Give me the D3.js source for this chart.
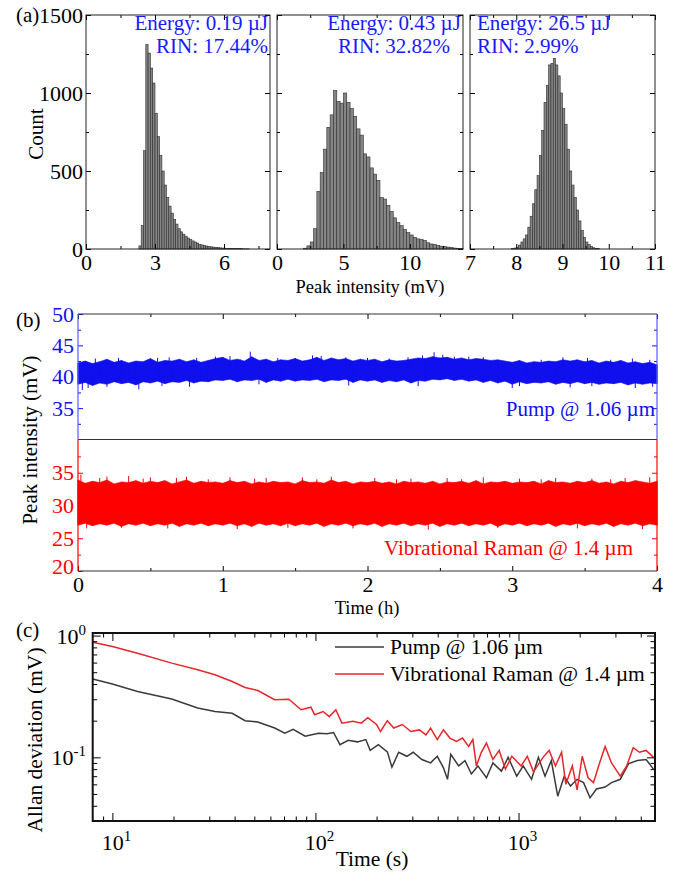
<!DOCTYPE html>
<html><head><meta charset="utf-8">
<script src="https://cdn.jsdelivr.net/npm/d3@7"></script>
<style>body{margin:0;background:#fff} text{font-family:"Liberation Serif","Times New Roman",serif;}</style>
</head><body><svg id="chart" width="675" height="873"></svg>
<script>
// ---------------- DATA ----------------
// (a) histograms: counts per bin, bin start and bin width (mV)
const hist1Start = 2.3, hist1Bin = 0.1;
const hist1Counts = [20,150,630,1310,1256,1160,1064,870,720,600,500,410,330,275,230,190,160,130,110,95,82,70,60,52,45,38,30,26,22,19,16,14,12,10,9,7,6,5,4,4,3,3,2,2,2,1,1,1];
const hist2Start = 2.0, hist2Bin = 0.25;
const hist2Counts = [5,20,45,130,370,490,640,780,860,1015,945,935,1000,940,900,850,770,730,610,590,520,480,440,330,320,280,240,200,170,150,125,105,90,75,65,60,55,40,32,28,22,18,15,12,10,6,4,2];
const hist3Start = 7.9, hist3Bin = 0.05;
const hist3Counts = [3,6,12,25,45,65,90,140,210,290,380,470,600,760,940,1050,1180,1190,1222,1180,1110,1000,900,800,640,500,410,330,250,180,120,75,45,28,16,8,4,2];
const histLabels = [["Energy: 0.19 µJ","RIN: 17.44%"],["Energy: 0.43 µJ","RIN: 32.82%"],["Energy: 26.5 µJ","RIN: 2.99%"]];

// (b) peak intensity: band envelopes sampled every 0.05 h (0 .. 4 h) + isolated spikes [h, mV]
const timeStep = 0.05;
const pumpUpper = [42.2,42.5,42.1,42.4,42.8,42.3,42.6,42.2,42.5,42.4, 42.9,42.3,42.6,42.5,42.8,42.4,42.7,42.3,42.6,42.9, 43.1,42.6,42.8,42.5,43.2,42.6,42.8,42.4,42.7,42.6, 42.9,42.5,42.7,43.1,42.6,43.0,42.7,42.9,42.5,42.8, 42.6,42.8,42.4,42.7,42.5,42.6,42.8,43.0,42.9,43.2, 43.0,43.1,42.8,43.0,42.7,42.9,42.8,42.6,42.7,42.5, 42.3,42.6,42.2,42.4,42.3,42.5,42.4,42.7,42.5,42.7, 42.4,42.6,42.2,42.5,42.3,42.6,42.2,42.4,42.1,42.3, 41.9];
const pumpLower = [38.8,39.1,38.6,39.0,38.8,39.2,38.9,39.1,38.7,39.2, 39.0,39.3,38.9,39.2,39.1,39.4,39.0,39.3,39.2,39.5, 39.4,39.6,39.2,39.5,39.4,39.6,39.1,39.5,39.3,39.6, 39.3,39.5,39.4,39.6,39.2,39.5,39.4,39.6,39.1,39.5, 39.3,39.5,39.1,39.4,39.2,39.5,39.0,39.4,39.3,39.6, 39.5,39.7,39.4,39.6,39.3,39.5,39.1,39.4,39.0,39.3, 38.8,39.2,38.9,39.1,39.0,39.2,38.8,39.1,38.9,39.2, 38.9,39.1,38.8,39.0,38.9,39.1,38.7,39.0,38.8,39.0, 38.9];
const pumpSpikes = [[0.03,37.9],[0.07,38.2],[0.12,42.9],[0.2,38.4],[0.28,43.0],[0.42,38.0],[0.55,43.0],[0.58,38.5],[0.63,43.1],[0.77,38.4],[0.82,43.0],[0.95,43.2],[1.05,43.3],[1.12,42.8],[1.19,44.0],[1.25,38.8],[1.38,43.0],[1.5,42.9],[1.62,43.4],[1.68,43.3],[1.85,43.1],[1.87,38.6],[2.0,43.0],[2.15,42.9],[2.28,43.1],[2.35,38.5],[2.38,43.4],[2.46,43.9],[2.52,43.5],[2.6,43.2],[2.7,43.2],[2.8,43.1],[3.0,38.2],[3.05,38.5],[3.2,42.7],[3.35,43.1],[3.4,38.3],[3.52,43.0],[3.55,38.5],[3.68,42.7],[3.83,42.9],[3.85,38.2],[3.95,42.7],[3.97,38.4]];
const ramanUpper = [33.9,33.4,33.7,33.5,33.9,33.3,33.6,33.5,33.8,33.4, 33.7,33.5,33.8,33.3,33.6,33.9,33.4,33.7,33.5,33.6, 33.4,33.8,33.5,33.7,33.3,33.6,33.4,33.7,33.5,33.6, 33.3,33.8,33.5,33.6,33.4,33.9,33.5,33.7,33.3,33.6, 33.5,33.7,33.4,33.6,33.3,33.7,33.5,33.6,33.4,33.7, 33.3,33.6,33.5,33.7,33.4,33.8,33.3,33.6,33.5,33.7, 33.4,33.6,33.5,33.7,33.3,33.8,33.5,33.6,33.4,33.7, 33.5,33.8,33.4,33.6,33.3,33.7,33.5,33.8,33.6,33.4, 33.7];
const ramanLower = [27.0,27.3,26.9,27.2,27.0,27.3,26.8,27.2,27.0,27.3, 26.9,27.2,27.0,27.3,26.8,27.2,27.0,27.3,26.9,27.2, 27.0,27.3,26.9,27.2,26.8,27.3,27.0,27.2,26.9,27.3, 26.9,27.2,27.0,27.3,26.8,27.2,27.0,27.3,26.9,27.2, 27.0,27.3,26.8,27.2,27.0,27.3,26.9,27.2,27.0,27.3, 26.8,27.2,27.0,27.3,26.9,27.2,27.0,27.3,26.8,27.2, 27.0,27.3,26.9,27.2,27.0,27.3,26.8,27.2,27.0,27.3, 26.9,27.2,27.0,27.3,26.8,27.2,27.0,27.3,26.9,27.2, 27.0];
const ramanSpikes = [[0.02,34.7],[0.06,26.5],[0.15,34.2],[0.2,34.4],[0.3,26.6],[0.35,34.5],[0.45,34.1],[0.5,34.3],[0.62,26.5],[0.68,34.2],[0.75,34.4],[0.9,34.0],[1.05,34.3],[1.1,26.4],[1.22,34.1],[1.3,34.2],[1.45,26.6],[1.55,34.3],[1.65,34.0],[1.75,34.4],[1.9,26.5],[2.05,34.2],[2.2,34.0],[2.3,34.1],[2.42,26.3],[2.55,34.2],[2.65,34.0],[2.8,34.3],[2.9,26.6],[3.05,34.1],[3.2,34.0],[3.3,34.2],[3.45,26.5],[3.55,34.1],[3.68,34.0],[3.78,34.2],[3.9,26.4],[3.95,34.3]];

// (c) Allan deviation
const pumpTau = [8,10,13.3,19.6,26.3,32,38.9,45,52,63,70.6,77.7,89,103.5,114,122.8,132,145,161,177,186,204,226,238,257,282,303,334,369,398,427,447,464,507,545,586,631,695,748,824,889,980,1055,1159,1253,1350,1450,1560,1680,1803,1943,2090,2250,2420,2670,2870,3170,3490,3850,4250,4620];
const pumpAdev = [0.44,0.40,0.347,0.301,0.254,0.238,0.23,0.2,0.195,0.174,0.158,0.17,0.149,0.158,0.156,0.16,0.127,0.138,0.134,0.14,0.114,0.127,0.111,0.083,0.11,0.102,0.11,0.096,0.09,0.102,0.082,0.066,0.106,0.085,0.094,0.073,0.085,0.068,0.09,0.077,0.1,0.07,0.085,0.066,0.1,0.07,0.094,0.048,0.07,0.058,0.066,0.062,0.0465,0.055,0.057,0.062,0.066,0.089,0.094,0.096,0.08];
const ramanTau = [8,10,13.3,19.6,26.3,32,38.9,45,52,63,74,85,95,99,109,117,126,135,153,168,181,200,209,226,243,268,295,325,350,369,398,427,459,495,530,568,596,620,656,695,748,803,862,927,1030,1105,1185,1320,1415,1520,1630,1710,1840,1943,2060,2200,2340,2480,2670,2870,3170,3410,3670,3940,4250,4620];
const ramanAdev = [0.883,0.812,0.717,0.594,0.524,0.476,0.42,0.375,0.354,0.297,0.3,0.246,0.258,0.224,0.238,0.216,0.246,0.191,0.198,0.191,0.212,0.186,0.163,0.2,0.174,0.186,0.163,0.168,0.153,0.174,0.14,0.168,0.144,0.135,0.144,0.123,0.14,0.085,0.11,0.131,0.096,0.114,0.08,0.102,0.085,0.102,0.076,0.1,0.114,0.085,0.11,0.06,0.085,0.054,0.102,0.068,0.062,0.085,0.123,0.09,0.07,0.085,0.12,0.11,0.114,0.1];
const legendLabels = ["Pump @ 1.06 µm","Vibrational Raman @ 1.4 µm"];

// ---------------- DRAW ----------------
const svg = d3.select("#chart");
svg.append("rect").attr("width",675).attr("height",873).attr("fill","#fff");
const FS = 21, TFS = 22;

function inTicks(g, axisFn, scale, values, size, fmt, pad, color){
  const a = axisFn(scale).tickValues(values).tickSize(-size).tickPadding(pad).tickFormat(fmt||"");
  g.call(a);
  g.select(".domain").remove();
  g.attr("font-family",null).attr("font-size",null);
  g.selectAll(".tick line").attr("stroke", color||"#000");
  g.selectAll(".tick text").attr("font-size",TFS).attr("fill", color||"#000");
  return g;
}

// ---- (a) ----
const yA = d3.scaleLinear().domain([0,1500]).range([249,15]);
const hists = [
  {start:hist1Start, bin:hist1Bin, counts:hist1Counts, dom:[0,8], r:[86,270], ticks:[0,3,6], minor:[1.5,4.5,7.5]},
  {start:hist2Start, bin:hist2Bin, counts:hist2Counts, dom:[0,14], r:[277,463], ticks:[0,5,10], minor:[2.5,7.5,12.5]},
  {start:hist3Start, bin:hist3Bin, counts:hist3Counts, dom:[7,11], r:[470,655], ticks:[7,8,9,10,11], minor:[7.5,8.5,9.5,10.5]}
];
hists.forEach((h,i)=>{
  const x = d3.scaleLinear().domain(h.dom).range(h.r);
  const g = svg.append("g");
  g.selectAll("rect.bar").data(h.counts).join("rect").attr("class","bar")
    .attr("x",(d,j)=>x(h.start+j*h.bin))
    .attr("width",(d,j)=>x(h.start+(j+1)*h.bin)-x(h.start+j*h.bin))
    .attr("y",d=>yA(d)).attr("height",d=>yA(0)-yA(d))
    .attr("fill","#858585").attr("stroke","#2e2e2e").attr("stroke-width",0.6);
  inTicks(g.append("g").attr("transform","translate(0,249)"), d3.axisBottom, x, h.ticks, 5, d3.format("d"), 5);
  inTicks(g.append("g").attr("transform","translate(0,249)"), d3.axisBottom, x, h.minor, 3);
  inTicks(g.append("g").attr("transform","translate(0,15)"), d3.axisTop, x, h.ticks, 5);
  inTicks(g.append("g").attr("transform","translate(0,15)"), d3.axisTop, x, h.minor, 3);
  inTicks(g.append("g").attr("transform",`translate(${h.r[0]},0)`), d3.axisLeft, yA, [0,500,1000,1500], 5, i===0?d3.format("d"):"", 3);
  inTicks(g.append("g").attr("transform",`translate(${h.r[0]},0)`), d3.axisLeft, yA, [250,750,1250], 3);
  inTicks(g.append("g").attr("transform",`translate(${h.r[1]},0)`), d3.axisRight, yA, [0,500,1000,1500], 5);
  inTicks(g.append("g").attr("transform",`translate(${h.r[1]},0)`), d3.axisRight, yA, [250,750,1250], 3);
  g.append("rect").attr("x",h.r[0]).attr("y",15).attr("width",h.r[1]-h.r[0]).attr("height",234)
    .attr("fill","none").attr("stroke","#222").attr("stroke-width",1);
  const lab = g.append("g").attr("fill","#1a1aff").attr("font-size",FS);
  if(i===0){
    lab.append("text").attr("x",268).attr("y",30).attr("text-anchor","end").text(histLabels[0][0]);
    lab.append("text").attr("x",268).attr("y",53).attr("text-anchor","end").text(histLabels[0][1]);
  } else if(i===1){
    lab.append("text").attr("x",394).attr("y",30).attr("text-anchor","middle").text(histLabels[1][0]);
    lab.append("text").attr("x",394).attr("y",53).attr("text-anchor","middle").text(histLabels[1][1]);
  } else {
    lab.append("text").attr("x",477).attr("y",30).text(histLabels[2][0]);
    lab.append("text").attr("x",477).attr("y",53).text(histLabels[2][1]);
  }
});
svg.append("text").attr("x",16).attr("y",22).attr("font-size",FS).text("(a)");
svg.append("text").attr("transform","translate(43,134) rotate(-90)").attr("text-anchor","middle").attr("font-size",FS).text("Count");
svg.append("text").attr("x",370).attr("y",293).attr("text-anchor","middle").attr("font-size",18.5).text("Peak intensity (mV)");

// ---- (b) ----
const xB = d3.scaleLinear().domain([0,4]).range([78,657]);
const yTop = d3.scaleLinear().domain([30,50]).range([439.5,314]);
const yBot = d3.scaleLinear().domain([20,40]).range([571,440]);
const times = pumpUpper.map((d,i)=>i*timeStep);
const BLUE = "#1010ee", RED = "#ff0000";
function band(lower, upper, y){
  return d3.area().x((d,i)=>xB(times[i])).y0((d,i)=>y(lower[i])).y1((d,i)=>y(upper[i]))(upper);
}
function drawSeries(lower, upper, spikes, y, color){
  const g = svg.append("g");
  g.append("path").attr("d",band(lower,upper,y)).attr("fill",color).attr("stroke",color).attr("stroke-width",0.6);
  g.selectAll("line.hair").data(upper).join("line").attr("class","hair")
    .attr("x1",(d,i)=>xB(times[i])).attr("x2",(d,i)=>xB(times[i]))
    .attr("y1",(d,i)=>y(lower[i])).attr("y2",d=>y(d)).attr("stroke",color).attr("stroke-width",1);
  const mid = (lower[0]+upper[0])/2;
  g.selectAll("line.spike").data(spikes).join("line").attr("class","spike")
    .attr("x1",d=>xB(d[0])).attr("x2",d=>xB(d[0]))
    .attr("y1",y(mid)).attr("y2",d=>y(d[1])).attr("stroke",color).attr("stroke-width",1);
}
drawSeries(pumpLower,pumpUpper,pumpSpikes,yTop,BLUE);
drawSeries(ramanLower,ramanUpper,ramanSpikes,yBot,RED);
const gb = svg.append("g");
inTicks(gb.append("g").attr("transform","translate(0,571)"), d3.axisBottom, xB, [0,1,2,3,4], 5, d3.format("d"), 5);
inTicks(gb.append("g").attr("transform","translate(0,571)"), d3.axisBottom, xB, [0.5,1.5,2.5,3.5], 3);
inTicks(gb.append("g").attr("transform","translate(0,314)"), d3.axisTop, xB, [0,1,2,3,4], 5);
inTicks(gb.append("g").attr("transform","translate(0,314)"), d3.axisTop, xB, [0.5,1.5,2.5,3.5], 3);
inTicks(gb.append("g").attr("transform","translate(78,0)"), d3.axisLeft, yTop, [35,40,45,50], 5, d3.format("d"), 4, BLUE);
inTicks(gb.append("g").attr("transform","translate(78,0)"), d3.axisLeft, yTop, [32.5,37.5,42.5,47.5], 3, "", 4, BLUE);
inTicks(gb.append("g").attr("transform","translate(657,0)"), d3.axisRight, yTop, [35,40,45], 5, "", 4, BLUE);
inTicks(gb.append("g").attr("transform","translate(657,0)"), d3.axisRight, yTop, [32.5,37.5,42.5,47.5], 3, "", 4, BLUE);
inTicks(gb.append("g").attr("transform","translate(78,0)"), d3.axisLeft, yBot, [20,25,30,35], 5, d3.format("d"), 4, RED);
inTicks(gb.append("g").attr("transform","translate(78,0)"), d3.axisLeft, yBot, [22.5,27.5,32.5,37.5], 3, "", 4, RED);
inTicks(gb.append("g").attr("transform","translate(657,0)"), d3.axisRight, yBot, [25,30,35], 5, "", 4, RED);
inTicks(gb.append("g").attr("transform","translate(657,0)"), d3.axisRight, yBot, [22.5,27.5,32.5,37.5], 3, "", 4, RED);
// nudge the lowest y label up a little so it clears the "0" time label
gb.selectAll(".tick text").filter(function(){return this.textContent==="20";}).attr("dy","0.1em");
const ln = (x1,y1,x2,y2,c)=>gb.append("line").attr("x1",x1).attr("y1",y1).attr("x2",x2).attr("y2",y2).attr("stroke",c).attr("stroke-width",1.2);
ln(78,314,657,314,"#333"); ln(78,439.5,657,439.5,"#333"); ln(78,571,657,571,"#333");
ln(78,314,78,439.5,"#5a5aff"); ln(657,314,657,439.5,"#5a5aff");
ln(78,439.5,78,571,RED); ln(657,439.5,657,571,RED);
svg.append("text").attr("x",655).attr("y",416).attr("text-anchor","end").attr("fill",BLUE).attr("font-size",FS).text(legendLabels[0]);
svg.append("text").attr("x",633).attr("y",555).attr("text-anchor","end").attr("fill",RED).attr("font-size",FS).text(legendLabels[1]);
svg.append("text").attr("x",16).attr("y",327).attr("font-size",FS).text("(b)");
svg.append("text").attr("transform","translate(37,440) rotate(-90)").attr("text-anchor","middle").attr("font-size",FS).text("Peak intensity (mV)");
svg.append("text").attr("x",367).attr("y",614).attr("text-anchor","middle").attr("font-size",18.5).text("Time (h)");

// ---- (c) ----
const xC = d3.scaleLog().domain([8,4700]).range([92.7,655]);
const yC = d3.scaleLog().domain([0.03,1.05]).range([821,633]);
const gc = svg.append("g");
const line = d3.line();
gc.append("path").attr("d",line(pumpTau.map((t,i)=>[xC(t),yC(pumpAdev[i])]))).attr("fill","none").attr("stroke","#3a3a3a").attr("stroke-width",1.5);
gc.append("path").attr("d",line(ramanTau.map((t,i)=>[xC(t),yC(ramanAdev[i])]))).attr("fill","none").attr("stroke","#e8262b").attr("stroke-width",1.5);
const xMaj=[10,100,1000], xMin=[9,20,30,40,50,60,70,80,90,200,300,400,500,600,700,800,900,2000,3000,4000];
const yMaj=[0.1,1], yMin=[0.04,0.05,0.06,0.07,0.08,0.09,0.2,0.3,0.4,0.5,0.6,0.7,0.8,0.9];
inTicks(gc.append("g").attr("transform","translate(0,821)"), d3.axisBottom, xC, xMaj, 8);
inTicks(gc.append("g").attr("transform","translate(0,821)"), d3.axisBottom, xC, xMin, 4.5);
inTicks(gc.append("g").attr("transform","translate(0,633)"), d3.axisTop, xC, xMaj, 8);
inTicks(gc.append("g").attr("transform","translate(0,633)"), d3.axisTop, xC, xMin, 4.5);
inTicks(gc.append("g").attr("transform","translate(92.7,0)"), d3.axisLeft, yC, yMaj, 8);
inTicks(gc.append("g").attr("transform","translate(92.7,0)"), d3.axisLeft, yC, yMin, 4.5);
inTicks(gc.append("g").attr("transform","translate(655,0)"), d3.axisRight, yC, yMaj, 8);
inTicks(gc.append("g").attr("transform","translate(655,0)"), d3.axisRight, yC, yMin, 4.5);
gc.append("rect").attr("x",92.7).attr("y",633).attr("width",655-92.7).attr("height",188).attr("fill","none").attr("stroke","#111").attr("stroke-width",2);
xMaj.forEach(v=>{
  const t = gc.append("text").attr("x",xC(v)+4).attr("y",850).attr("text-anchor","middle").attr("font-size",TFS);
  t.append("tspan").text("10");
  t.append("tspan").attr("dy",-9).attr("font-size",15).text(Math.round(Math.log10(v)));
});
yMaj.forEach(v=>{
  const t = gc.append("text").attr("x",86).attr("y",yC(v)+8).attr("text-anchor","end").attr("font-size",TFS);
  t.append("tspan").text("10");
  const e = Math.round(Math.log10(v));
  t.append("tspan").attr("dy",-9).attr("font-size",15).text(e<0?"-"+(-e):e);
});
const lg = [[legendLabels[0],"#3a3a3a",647],[legendLabels[1],"#e8262b",674]];
lg.forEach(([txt,c,y])=>{
  gc.append("line").attr("x1",335).attr("x2",384).attr("y1",y).attr("y2",y).attr("stroke",c).attr("stroke-width",1.5);
  gc.append("text").attr("x",390).attr("y",y+7).attr("font-size",21.5).text(txt);
});
svg.append("text").attr("x",16).attr("y",637).attr("font-size",FS).text("(c)");
svg.append("text").attr("transform","translate(42,740) rotate(-90)").attr("text-anchor","middle").attr("font-size",21.5).text("Allan deviation (mV)");
svg.append("text").attr("x",372).attr("y",866).attr("text-anchor","middle").attr("font-size",21.5).text("Time (s)");
</script></body></html>
